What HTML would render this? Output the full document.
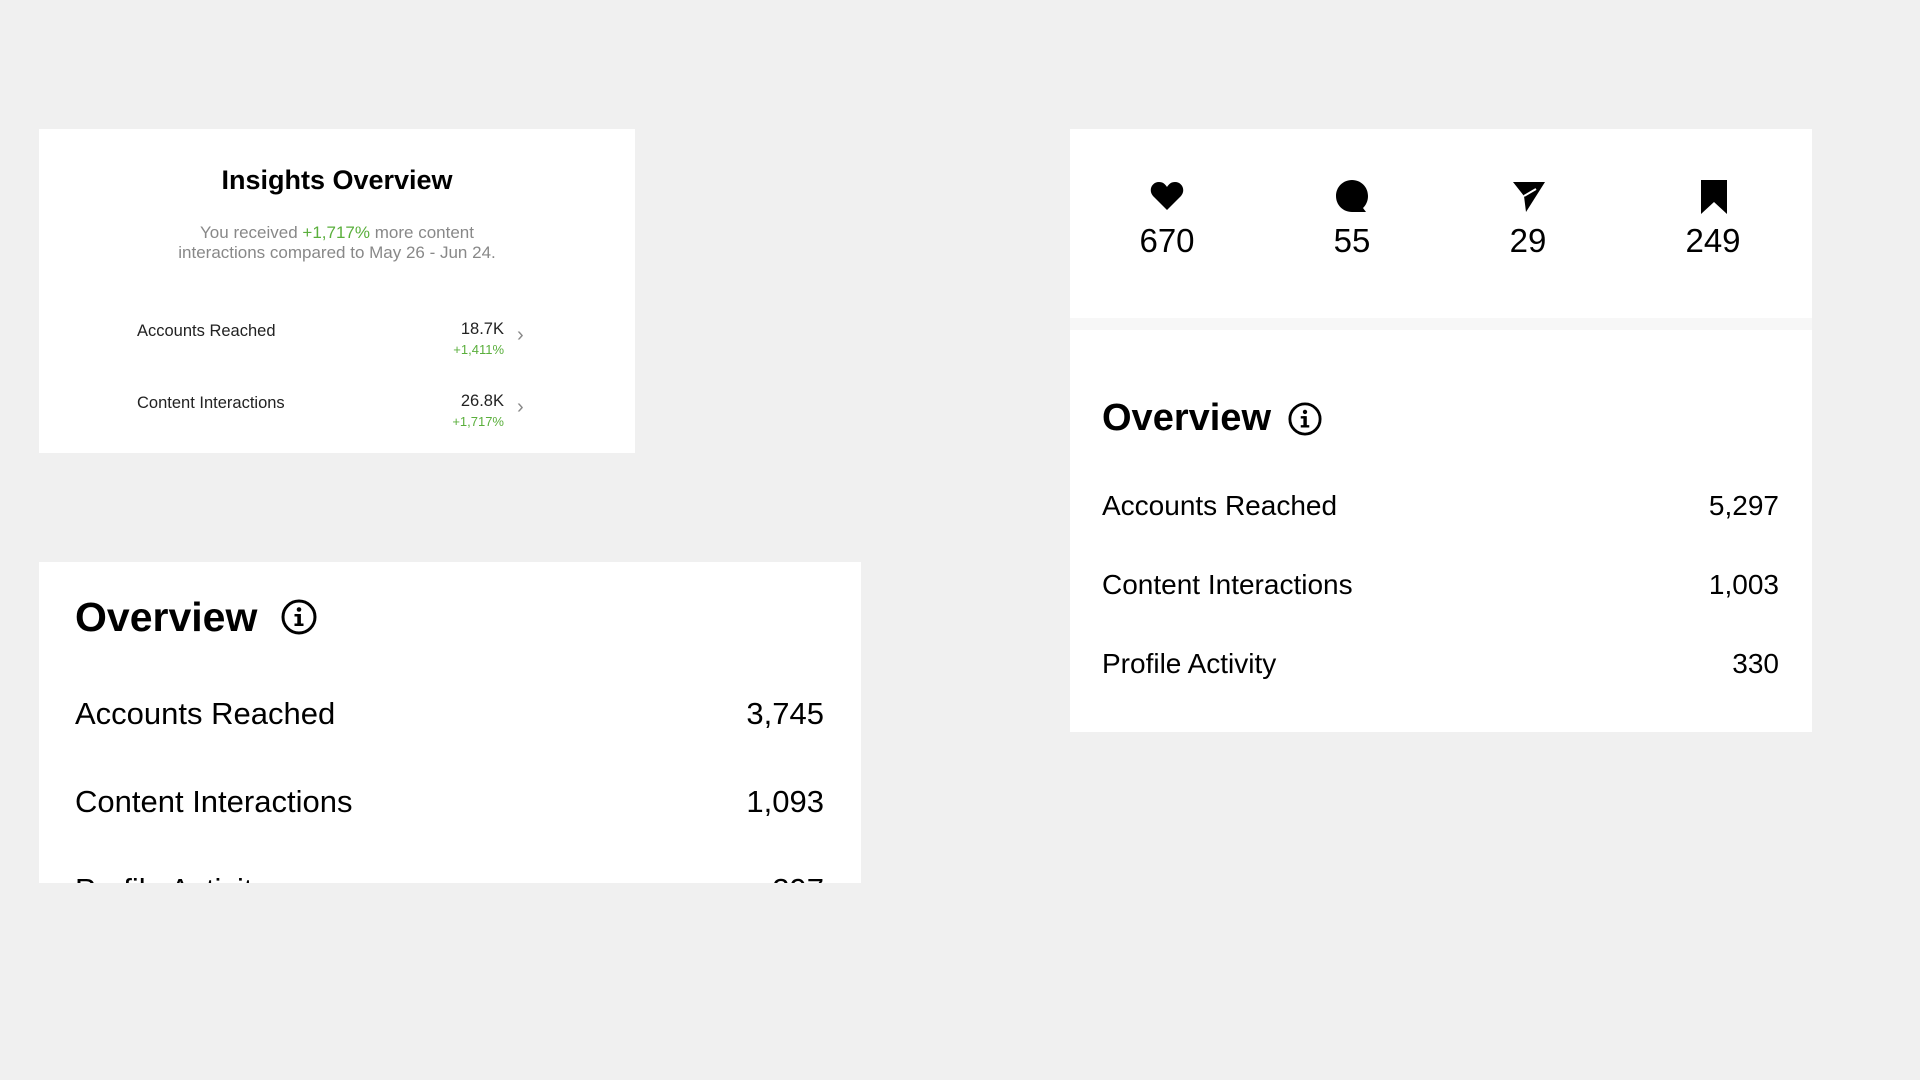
<!DOCTYPE html>
<html><head><meta charset="utf-8"><style>
body{margin:0;width:1920px;height:1080px;background:#f0f0f0;font-family:"Liberation Sans",sans-serif;position:relative;overflow:hidden;color:#000}
.card{position:absolute;background:#fff;overflow:hidden}
.a{position:absolute;white-space:nowrap}
.r{text-align:right}
.g{color:#5aaf3c}
</style></head><body>
<div class="card" style="left:39px;top:129px;width:596px;height:324px">
  <div class="a" style="left:0;width:596px;text-align:center;top:36px;font-size:27px;font-weight:bold">Insights Overview</div>
  <div class="a" style="left:0;width:596px;text-align:center;top:94px;font-size:17px;line-height:20px;color:#888">You received <span class="g">+1,717%</span> more content<br>interactions compared to May 26 - Jun 24.</div>
  <div class="a" style="left:98px;top:193px;font-size:16.5px;color:#222">Accounts Reached</div>
  <div class="a r" style="right:131px;top:191px;font-size:16.5px;color:#222">18.7K</div>
  <div class="a r g" style="right:131px;top:213px;font-size:13px">+1,411%</div>
  <div class="a" style="left:478px;top:195px;font-size:20px;color:#888">›</div>
  <div class="a" style="left:98px;top:265px;font-size:16.5px;color:#222">Content Interactions</div>
  <div class="a r" style="right:131px;top:263px;font-size:16.5px;color:#222">26.8K</div>
  <div class="a r g" style="right:131px;top:285px;font-size:13px">+1,717%</div>
  <div class="a" style="left:478px;top:267px;font-size:20px;color:#888">›</div>
</div>

<div class="card" style="left:39px;top:562px;width:822px;height:321px">
  <div class="a" style="left:36px;top:32px;font-size:41px;font-weight:bold">Overview</div>
  <svg class="a" style="left:242px;top:37px" width="36" height="36" viewBox="0 0 36 36"><circle cx="18" cy="18" r="16" fill="none" stroke="#000" stroke-width="3"/><circle cx="18" cy="10.5" r="2.3"/><rect x="16.3" y="15" width="3.6" height="11"/><rect x="13.5" y="15" width="5" height="2.5"/><rect x="13.5" y="24.5" width="9" height="2.5"/></svg>
  <div class="a" style="left:36px;top:134px;font-size:31px">Accounts Reached</div>
  <div class="a r" style="right:37px;top:134px;font-size:31px">3,745</div>
  <div class="a" style="left:36px;top:222px;font-size:31px">Content Interactions</div>
  <div class="a r" style="right:37px;top:222px;font-size:31px">1,093</div>
  <div class="a" style="left:36px;top:310px;font-size:31px">Profile Activity</div>
  <div class="a r" style="right:37px;top:310px;font-size:31px">297</div>
</div>

<div class="card" style="left:1070px;top:129px;width:742px;height:603px">
  <div style="position:absolute;left:0;top:189px;width:742px;height:12px;background:#f7f7f7"></div>
  <svg class="a" style="left:80px;top:52px" width="34" height="30" viewBox="0 0 34 30"><path d="M17 29 L3 15 C-2 9 2 1 9 1 C13 1 15 3 17 6 C19 3 21 1 25 1 C32 1 36 9 31 15 Z"/></svg>
  <svg class="a" style="left:265px;top:50px" width="34" height="34" viewBox="0 0 34 34"><path d="M17 1 C26 1 33 8 33 17 C33 22 31 26 28 29 L31 33 L17 33 C8 33 1 26 1 17 C1 8 8 1 17 1 Z"/></svg>
  <svg class="a" style="left:442px;top:52px" width="34" height="32" viewBox="0 0 34 32"><path d="M1 1 L33 1 L14 31 L12 15 Z M12 15 L33 1" /><path d="M12 15 L24 8" stroke="#fff" stroke-width="2"/></svg>
  <svg class="a" style="left:629px;top:51px" width="30" height="34" viewBox="0 0 30 34"><path d="M2 0 L28 0 L28 34 L15 22 L2 34 Z"/></svg>
  <div class="a" style="left:37px;width:120px;text-align:center;top:93px;font-size:33px">670</div>
  <div class="a" style="left:222px;width:120px;text-align:center;top:93px;font-size:33px">55</div>
  <div class="a" style="left:398px;width:120px;text-align:center;top:93px;font-size:33px">29</div>
  <div class="a" style="left:583px;width:120px;text-align:center;top:93px;font-size:33px">249</div>
  <div class="a" style="left:32px;top:268px;font-size:38px;font-weight:bold">Overview</div>
  <svg class="a" style="left:218px;top:273px" width="34" height="34" viewBox="0 0 36 36"><circle cx="18" cy="18" r="16" fill="none" stroke="#000" stroke-width="3"/><circle cx="18" cy="10.5" r="2.3"/><rect x="16.3" y="15" width="3.6" height="11"/><rect x="13.5" y="15" width="5" height="2.5"/><rect x="13.5" y="24.5" width="9" height="2.5"/></svg>
  <div class="a" style="left:32px;top:361px;font-size:28px">Accounts Reached</div>
  <div class="a r" style="right:33px;top:361px;font-size:28px">5,297</div>
  <div class="a" style="left:32px;top:440px;font-size:28px">Content Interactions</div>
  <div class="a r" style="right:33px;top:440px;font-size:28px">1,003</div>
  <div class="a" style="left:32px;top:519px;font-size:28px">Profile Activity</div>
  <div class="a r" style="right:33px;top:519px;font-size:28px">330</div>
</div>
</body></html>
